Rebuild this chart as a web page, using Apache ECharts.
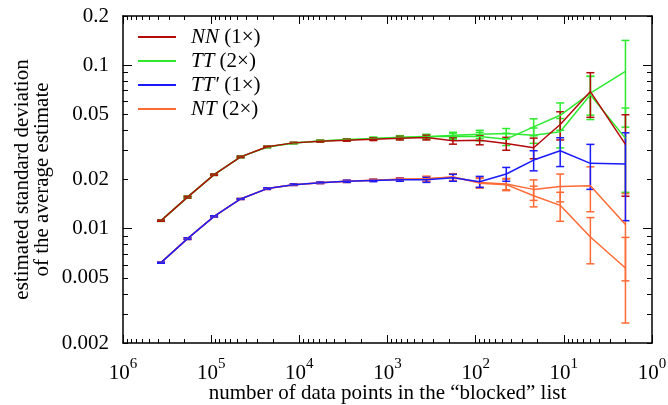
<!DOCTYPE html>
<html>
<head>
<meta charset="utf-8">
<script src="https://cdn.jsdelivr.net/npm/echarts@6/dist/echarts.min.js"></script>
<style>html,body{margin:0;padding:0;background:#fff;}</style>
</head>
<body>
<div id="chart" style="width:668px;height:405px;"></div>
<script type="text/javascript">
// number of points in the blocked list (x)
var xPoints = [370727, 185363, 92681, 46340, 23170, 11585, 5792, 2896, 1448, 724, 362, 181, 90, 45, 22, 11, 5, 2];

var nnVal  = [0.0112, 0.0156, 0.0214, 0.0275, 0.0317, 0.0335, 0.0343, 0.0348, 0.0353, 0.0358, 0.0361, 0.0345, 0.0348, 0.0332, 0.0313, 0.0434, 0.0690, 0.0328];
var nnErr  = [0.0001, 0.0002, 0.0002, 0.0003, 0.0003, 0.0003, 0.0004, 0.0005, 0.0007, 0.0009, 0.0012, 0.0016, 0.0022, 0.0030, 0.0045, 0.0085, 0.0210, 0.0170];
var tt1Val = [0.0112, 0.0156, 0.0214, 0.0275, 0.0316, 0.0334, 0.0344, 0.0350, 0.0356, 0.0362, 0.0366, 0.0368, 0.0367, 0.0353, 0.0420, 0.0494, 0.0675, 0.0918];
var tt1Err = [0.0001, 0.0002, 0.0002, 0.0003, 0.0003, 0.0003, 0.0004, 0.0005, 0.0007, 0.0009, 0.0012, 0.0016, 0.0022, 0.0030, 0.0050, 0.0094, 0.0180, 0.0500];
var tt2Val = [0.0112, 0.0156, 0.0214, 0.0275, 0.0316, 0.0334, 0.0344, 0.0350, 0.0355, 0.0360, 0.0364, 0.0373, 0.0378, 0.0382, 0.0373, 0.0392, 0.0660, 0.0357];
var tt2Err = [0.0001, 0.0002, 0.0002, 0.0003, 0.0003, 0.0003, 0.0004, 0.0005, 0.0007, 0.0009, 0.0012, 0.0016, 0.0022, 0.0028, 0.0040, 0.0080, 0.0195, 0.0190];
var ttpVal = [0.0062, 0.0087, 0.0119, 0.0152, 0.0176, 0.0186, 0.0191, 0.0195, 0.0197, 0.0199, 0.0199, 0.0205, 0.0194, 0.0216, 0.0263, 0.0300, 0.0251, 0.0249];
var ttpErr = [0.00005, 0.0001, 0.0001, 0.0001, 0.0002, 0.0002, 0.0002, 0.0003, 0.0003, 0.0004, 0.0007, 0.0010, 0.0015, 0.0021, 0.0037, 0.0060, 0.0077, 0.0137];
var nt1Val = [0.0062, 0.0087, 0.0119, 0.0152, 0.0176, 0.0186, 0.0191, 0.0195, 0.0198, 0.0201, 0.0202, 0.0207, 0.0192, 0.0188, 0.0174, 0.0181, 0.0183, 0.0106];
var nt1Err = [0.00005, 0.0001, 0.0001, 0.0001, 0.0002, 0.0002, 0.0002, 0.0003, 0.0003, 0.0004, 0.0007, 0.0010, 0.0013, 0.0015, 0.0025, 0.0035, 0.0056, 0.0058];
var nt2Val = [0.0062, 0.0087, 0.0119, 0.0152, 0.0176, 0.0186, 0.0191, 0.0195, 0.0198, 0.0201, 0.0202, 0.0207, 0.0190, 0.0186, 0.0159, 0.0139, 0.0089, 0.00575];
var nt2Err = [0.00005, 0.0001, 0.0001, 0.0001, 0.0002, 0.0002, 0.0002, 0.0003, 0.0003, 0.0004, 0.0007, 0.0010, 0.0013, 0.0015, 0.0023, 0.0028, 0.0028, 0.0031];

var xTickLabels = [1, 10, 100, 1000, 10000, 100000, 1000000];
var yTickLabels = [0.002, 0.005, 0.01, 0.02, 0.05, 0.1, 0.2];
var yMajorTicks = [0.01, 0.1];

var legendNames = ['NN', 'TT', "TT'", 'NT'];
var legendText = {
    'NN': '{i|NN} (1×)',
    'TT': '{i|TT} (2×)',
    "TT'": '{i|TT′} (1×)',
    'NT': '{i|NT} (2×)'
};
var colors = {'NN': '#b40a0a', 'TT': '#2eea2e', "TT'": '#1a1aff', 'NT': '#ff6a35'};

var FONT = 'Liberation Serif';

// minor ticks 2..9 x 10^k
var xMinorTicks = [];
for (var k = 0; k < 6; k++) {
    for (var m = 2; m <= 9; m++) xMinorTicks.push(m * Math.pow(10, k));
}
var yMinorTicks = [];
[0.001, 0.01, 0.1].forEach(function (d) {
    for (var m = 2; m <= 9; m++) {
        var v = +(m * d).toPrecision(3);
        if (v >= 0.002 && v <= 0.2) yMinorTicks.push(v);
    }
});

function pairs(vals) {
    return xPoints.map(function (x, i) { return [x, vals[i]]; });
}
function errData(vals, errs) {
    return xPoints.map(function (x, i) { return [x, vals[i] - errs[i], vals[i] + errs[i]]; });
}

function lineSeries(name, vals) {
    return {
        name: name, type: 'line', data: pairs(vals),
        showSymbol: false, symbol: 'none',
        color: colors[name],
        lineStyle: {color: colors[name], width: 1.5}
    };
}
function errSeries(name, vals, errs) {
    var c = colors[name];
    return {
        name: name, type: 'custom', data: errData(vals, errs),
        encode: {x: 0, y: [1, 2]},
        color: c,
        renderItem: function (params, api) {
            var x = api.value(0);
            var lo = api.coord([x, api.value(1)]);
            var hi = api.coord([x, api.value(2)]);
            var w = 4;
            var st = {stroke: c, lineWidth: 1.5};
            return {
                type: 'group',
                children: [
                    {type: 'line', shape: {x1: lo[0], y1: lo[1], x2: hi[0], y2: hi[1]}, style: st},
                    {type: 'line', shape: {x1: lo[0] - w, y1: lo[1], x2: lo[0] + w, y2: lo[1]}, style: st},
                    {type: 'line', shape: {x1: hi[0] - w, y1: hi[1], x2: hi[0] + w, y2: hi[1]}, style: st}
                ]
            };
        }
    };
}

function xAxisDef(pos, major, withLabel) {
    return {
        type: 'log', logBase: 10, inverse: true, min: 1, max: 1000000,
        position: pos, gridIndex: 0,
        axisLine: {show: major, lineStyle: {color: '#000', width: 1.5}},
        axisTick: {show: true, inside: true, length: major ? 8 : 4,
                   customValues: major ? xTickLabels : xMinorTicks,
                   lineStyle: {color: '#000', width: 1}},
        axisLabel: withLabel ? {
            show: true, customValues: xTickLabels, margin: 20,
            formatter: function (v) {
                return '{b|10}{s|' + Math.round(Math.log10(v)) + '}';
            },
            rich: {
                b: {fontFamily: FONT, fontSize: 21, color: '#000', lineHeight: 21, verticalAlign: 'bottom'},
                s: {fontFamily: FONT, fontSize: 15, color: '#000', lineHeight: 15, padding: [0, 0, 12, 0], verticalAlign: 'bottom'}
            }
        } : {show: false},
        splitLine: {show: false}
    };
}
function yAxisDef(pos, major, withLabel) {
    return {
        type: 'log', logBase: 10, min: 0.002, max: 0.2,
        position: pos, gridIndex: 0,
        axisLine: {show: major, lineStyle: {color: '#000', width: 1.5}},
        axisTick: {show: true, inside: true, length: major ? 9 : 5,
                   customValues: major ? yMajorTicks : yMinorTicks,
                   lineStyle: {color: '#000', width: 1}},
        axisLabel: withLabel ? {
            show: true, customValues: yTickLabels, margin: 14,
            fontFamily: FONT, fontSize: 21, color: '#000',
            formatter: function (v) { return String(+v.toPrecision(3)); }
        } : {show: false},
        splitLine: {show: false}
    };
}

var xAxes = [xAxisDef('bottom', true, true), xAxisDef('bottom', false, false),
             xAxisDef('top', true, false), xAxisDef('top', false, false)];
xAxes[0].name = 'number of data points in the “blocked” list';
xAxes[0].nameLocation = 'middle';
xAxes[0].nameGap = 40;
xAxes[0].nameMoveOverlap = false;
xAxes[0].nameTextStyle = {fontFamily: FONT, fontSize: 21, color: '#000'};

var yAxes = [yAxisDef('left', true, true), yAxisDef('left', false, false),
             yAxisDef('right', true, false), yAxisDef('right', false, false)];
yAxes[0].name = 'estimated standard deviation\nof the average estimate';
yAxes[0].nameLocation = 'middle';
yAxes[0].nameGap = 71;
yAxes[0].nameMoveOverlap = false;
yAxes[0].nameTextStyle = {fontFamily: FONT, fontSize: 21, color: '#000', lineHeight: 20};

var chart = echarts.init(document.getElementById('chart'));
var option = {
    backgroundColor: '#fff',
    animation: false,
    grid: {left: 123, right: 16, top: 16, bottom: 62, containLabel: false, outerBoundsMode: 'none'},
    legend: {
        data: legendNames,
        left: 138, top: 26, orient: 'vertical',
        padding: 0, itemGap: 2,
        icon: 'rect', itemWidth: 38, itemHeight: 2,
        formatter: function (name) { return legendText[name]; },
        textStyle: {
            fontFamily: FONT, fontSize: 21, color: '#000', lineHeight: 22,
            padding: [0, 0, 0, 10],
            rich: {i: {fontFamily: FONT, fontSize: 21, fontStyle: 'italic', color: '#000'}}
        }
    },
    xAxis: xAxes,
    yAxis: yAxes,
    series: [
        lineSeries('TT', tt1Val), errSeries('TT', tt1Val, tt1Err),
        lineSeries('TT', tt2Val), errSeries('TT', tt2Val, tt2Err),
        lineSeries('NN', nnVal), errSeries('NN', nnVal, nnErr),
        lineSeries('NT', nt1Val), errSeries('NT', nt1Val, nt1Err),
        lineSeries('NT', nt2Val), errSeries('NT', nt2Val, nt2Err),
        lineSeries("TT'", ttpVal), errSeries("TT'", ttpVal, ttpErr)
    ]
};
chart.setOption(option);
</script>
</body>
</html>
